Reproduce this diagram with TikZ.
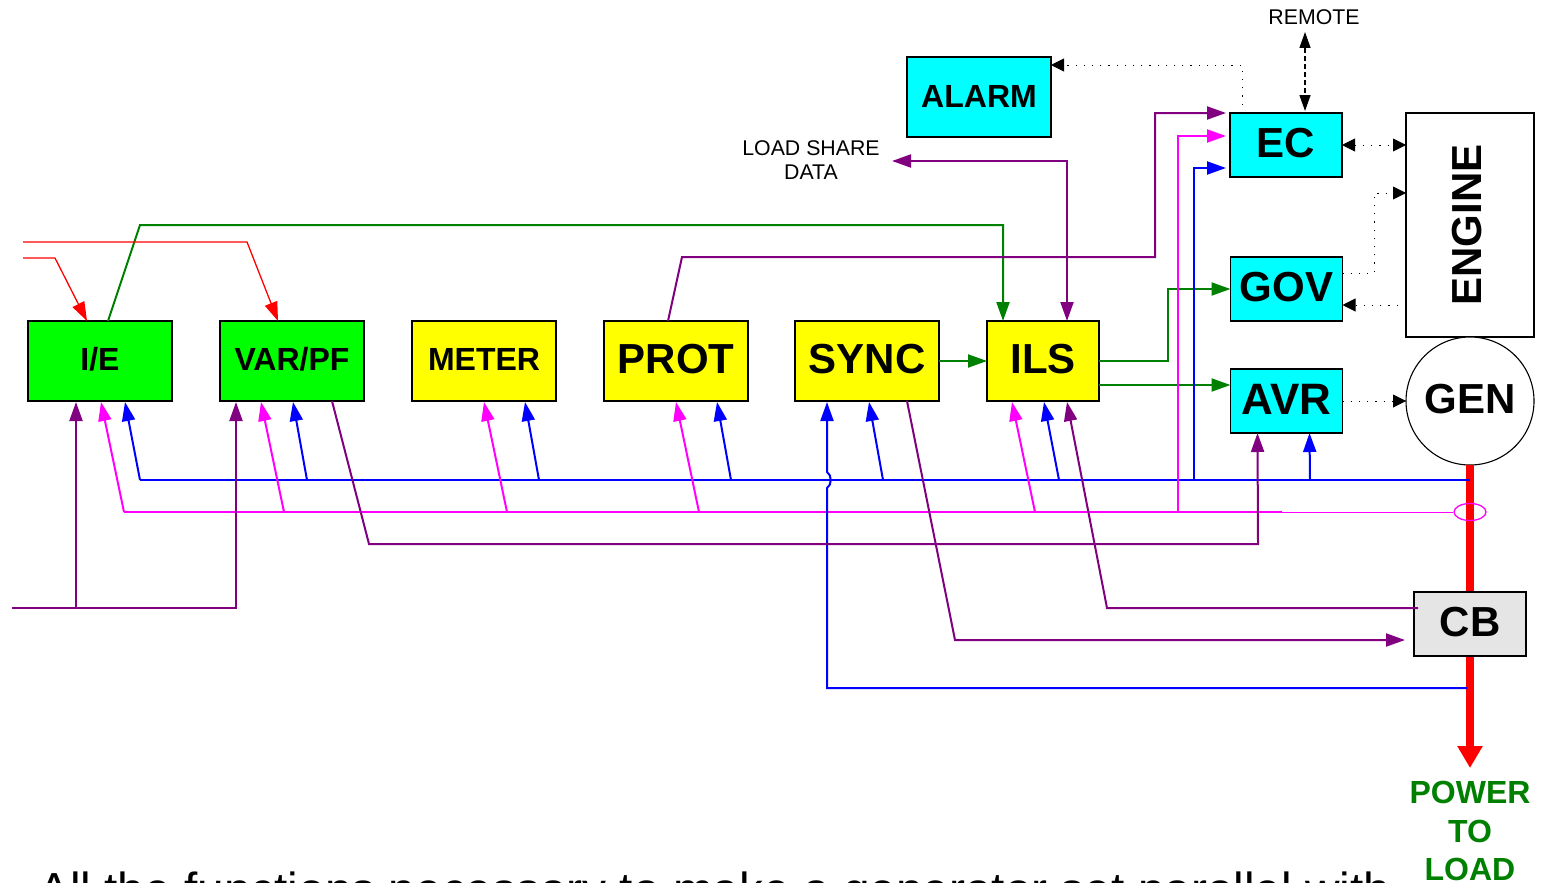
\documentclass[tikz,border=0pt]{standalone}
\usepackage{fontspec}
\setmainfont{Liberation Sans}
\usetikzlibrary{arrows.meta,shapes.geometric}
\definecolor{lnpurple}{RGB}{128,0,128}
\definecolor{lngreen}{RGB}{0,128,0}
\definecolor{cbgray}{RGB}{229,229,229}
\definecolor{fcyan}{RGB}{0,255,255}
\definecolor{fyellow}{RGB}{255,255,0}
\definecolor{fgreen}{RGB}{0,255,0}
\definecolor{lnmag}{RGB}{255,0,255}
\definecolor{lnblue}{RGB}{0,0,255}
\definecolor{lnred}{RGB}{255,0,0}
\newcommand{\fsz}[1]{\fontsize{#1pt}{#1pt}\selectfont}
\tikzset{
  x=1pt,y=-1pt,
  blk/.style={draw=black,line width=1.1pt,inner sep=0pt,outer sep=0pt,text depth=4pt},
  lbl/.style={inner sep=0pt,align=center},
  wire/.style={line width=2pt,line join=miter},
  tip/.style={-{Triangle[length=19pt,width=13pt]}},
  thinw/.style={line width=1.3pt,line join=miter},
  dot/.style={line width=0.9pt,dash pattern=on 1.2pt off 7pt},
  dtip/.style={-{Triangle[length=13pt,width=13pt]}},
  dtips/.style={{Triangle[length=13pt,width=13pt]}-{Triangle[length=13pt,width=13pt]}},
}
\begin{document}
\begin{tikzpicture}
\path[use as bounding box,clip] (0,0) rectangle (1544,883);
% boxes
\node[blk,fill=fgreen,minimum width=144pt,minimum height=80pt,font=\bfseries\fsz{32}] (ie) at (100,361) {I/E};
\node[blk,fill=fgreen,minimum width=144pt,minimum height=80pt,font=\bfseries\fsz{32}] (var) at (292,361) {VAR/PF};
\node[blk,fill=fyellow,minimum width=144pt,minimum height=80pt,font=\bfseries\fsz{32}] (meter) at (484,361) {METER};
\node[blk,fill=fyellow,minimum width=144pt,minimum height=80pt,font=\bfseries\fsz{42}] (prot) at (676,361) {PROT};
\node[blk,fill=fyellow,minimum width=144pt,minimum height=80pt,font=\bfseries\fsz{42}] (sync) at (867,361) {SYNC};
\node[blk,fill=fyellow,minimum width=112pt,minimum height=80pt,font=\bfseries\fsz{42}] (ils) at (1043,361) {ILS};
\node[blk,text depth=2pt,fill=fcyan,minimum width=144pt,minimum height=80pt,font=\bfseries\fsz{32}] (alarm) at (979,97) {ALARM};
\node[blk,fill=fcyan,minimum width=112pt,minimum height=64pt,font=\bfseries\fsz{42}] (ec) at (1286,145) {EC};
\node[blk,fill=fcyan,minimum width=112pt,minimum height=64pt,font=\bfseries\fsz{42}] (gov) at (1286.5,289) {GOV};
\node[blk,fill=fcyan,minimum width=112pt,minimum height=64pt,font=\bfseries\fsz{44}] (avr) at (1286.5,401) {AVR};
\node[blk,fill=white,minimum width=128pt,minimum height=224pt] (engine) at (1470,225) {};
\node[lbl,rotate=90,font=\bfseries\fsz{42}] (enginelbl) at (1467,225) {ENGINE};
\node[blk,circle,fill=white,minimum size=128pt,font=\bfseries\fsz{42}] (gen) at (1470,401) {GEN};
% labels
\node[lbl,font=\fsz{21.3}] (remote) at (1314,17) {REMOTE};
\node[lbl,font=\fsz{21.3},align=center] (share) at (811,160) {LOAD SHARE\\[3pt]DATA};
\node[lbl,font=\bfseries\fsz{32},text=lngreen,align=center,anchor=north] (power) at (1470,781) {POWER\\[6.5pt]TO\\[6.5pt]LOAD};
\node[lbl,font=\fsz{47.8},anchor=base west] (caption) at (38,906) {All the functions necessary to make a generator set parallel with};
% power path
\draw[lnred,line width=7.4pt] (gen.south) -- (1470,592);
\coordinate (lo) at (1470,768);
\draw[lnred,line width=7.4pt,-{Triangle[length=22pt,width=24pt]}] (1470,656) -- (lo);
% buses
\coordinate (bbR) at (1470,480);
\coordinate (mbR) at (1282,512);
\draw[lnblue,wire] (140,480) -- (bbR);
\draw[lnmag,wire] (124,512) -- (mbR);
\node[draw=lnmag,ellipse,line width=1.3pt,minimum width=32pt,minimum height=17pt,inner sep=0pt] (ct) at (1470,512) {};
\draw[lnmag,line width=1pt] (mbR) -- (ct.west);
% green
\draw[lngreen,wire,tip] ([xshift=80pt]ie.north west) -- (140,225) -- (1003,225) -- ([xshift=16pt]ils.north west);
\draw[lngreen,wire,tip] (sync.east) -- (ils.west);
\draw[lngreen,wire,tip] (ils.east) -- (1168,361) -- (1168,289) -- (gov.west);
\draw[lngreen,wire,tip] ([yshift=-64pt]ils.north east) -- ([yshift=-16pt]avr.north west);
% red
\coordinate (r1) at (23,258);
\coordinate (r2) at (23,242);
\draw[lnred,thinw,tip] (r1) -- (55,258) -- ([xshift=59pt]ie.north west);
\draw[lnred,thinw,tip] (r2) -- (247,242) -- ([xshift=58pt]var.north west);
% left purple
\coordinate (p0) at (12,608);
\coordinate (pj) at (76,608);
\draw[lnpurple,wire,tip] (p0) -- (236,608) -- ([xshift=16pt,yshift=-1pt]var.south west);
\draw[lnpurple,wire,tip] (pj) -- ([xshift=48pt,yshift=-1pt]ie.south west);
% magenta branches
\draw[lnmag,wire,tip] (124,512) -- ([xshift=73pt,yshift=-1pt]ie.south west);
\draw[lnmag,wire,tip] (284,512) -- ([xshift=41pt,yshift=-1pt]var.south west);
\draw[lnmag,wire,tip] (507,512) -- ([xshift=72pt,yshift=-1pt]meter.south west);
\draw[lnmag,wire,tip] (699,512) -- ([xshift=72pt,yshift=-1pt]prot.south west);
\draw[lnmag,wire,tip] (1035,512) -- ([xshift=25pt,yshift=-1pt]ils.south west);
\draw[lnmag,wire,tip] (1178,512) -- (1178,136) -- ([xshift=-4pt,yshift=-23pt]ec.north west);
% blue branches
\draw[lnblue,wire,tip] (140,480) -- ([xshift=97pt,yshift=-1pt]ie.south west);
\draw[lnblue,wire,tip] (307,480) -- ([xshift=73pt,yshift=-1pt]var.south west);
\draw[lnblue,wire,tip] (539,480) -- ([xshift=113pt,yshift=-1pt]meter.south west);
\draw[lnblue,wire,tip] (731,480) -- ([xshift=113pt,yshift=-1pt]prot.south west);
\draw[lnblue,wire,tip] (883,480) -- ([xshift=74pt,yshift=-1pt]sync.south west);
\draw[lnblue,wire,tip] (1059,480) -- ([xshift=57pt,yshift=-1pt]ils.south west);
\draw[lnblue,wire,tip] (1194,480) -- (1194,168) -- ([xshift=-4pt,yshift=-55pt]ec.north west);
\draw[lnblue,wire,tip] (1310,480) -- ([xshift=79pt]avr.south west);
\coordinate (bl) at (1467,688);
\draw[lnblue,wire,tip] (bl) -- (827,688) -- (827,488) .. controls (832,485) and (832,475) .. (827,472) -- ([xshift=32pt,yshift=-1pt]sync.south west);
% purple
\draw[lnpurple,wire,tip] ([xshift=112pt]var.south west) -- (369,544) -- (1258,544) -- ([xshift=27pt]avr.south west);
\draw[lnpurple,wire,tip] ([xshift=64pt]prot.north west) -- (682,257) -- (1155,257) -- (1155,113) -- ([xshift=-4pt]ec.north west);
\coordinate (sh) at (892,161);
\draw[lnpurple,wire,{Triangle[length=19pt,width=13pt]}-{Triangle[length=19pt,width=13pt]}] (sh) -- (1067,161) -- ([xshift=80pt]ils.north west);
\coordinate (s2) at (1405,640);
\draw[lnpurple,wire,tip] ([xshift=112pt]sync.south west) -- (955,640) -- (s2);
% dotted
\draw[black,dot,dtip] ([xshift=12pt]ec.north west) -- (1242,65) -- ([yshift=-8pt]alarm.north east);
\coordinate (rm) at (1305,32);
\draw[black,line width=1.3pt,dash pattern=on 5pt off 3pt,{Triangle[length=16pt,width=11pt]}-{Triangle[length=16pt,width=11pt]}] (rm) -- (1305,111);
\draw[black,dot,dtips] (ec.east) -- (engine.west |- ec.east);
\draw[black,dot,dtip] ([yshift=-16pt]gov.north east) -- (1374,273) -- (1374,193) -- ([yshift=-80pt]engine.north west);
\draw[black,dot,dtip] ([yshift=-192pt]engine.north west) -- ([yshift=-48pt]gov.north east);
\draw[black,dot,dtip] (avr.east) -- (gen.west);
% CB on top
\node[blk,fill=cbgray,minimum width=112pt,minimum height=64pt,font=\bfseries\fsz{42}] (cb) at (1470,624) {CB};
\draw[lnpurple,wire,tip] ([yshift=-16pt,xshift=4pt]cb.north west) -- (1107,608) -- ([xshift=80pt,yshift=-1pt]ils.south west);
\end{tikzpicture}
\end{document}
